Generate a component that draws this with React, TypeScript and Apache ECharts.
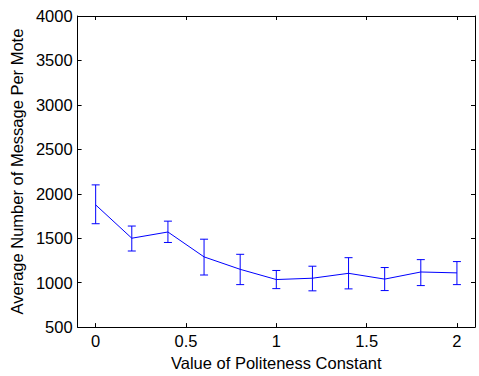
import React, { useEffect, useRef } from "react";
import * as echarts from "echarts";

const xValues = [0, 0.2, 0.4, 0.6, 0.8, 1.0, 1.2, 1.4, 1.6, 1.8, 2.0];
const meanValues = [1875, 1500, 1570, 1290, 1150, 1035, 1050, 1105, 1040, 1120, 1110];
const upperValues = [2100, 1637, 1692, 1489, 1319, 1137, 1185, 1281, 1170, 1259, 1237];
const lowerValues = [1663, 1356, 1452, 1086, 978, 933, 908, 930, 911, 967, 978];
const xTickValues = [0, 0.5, 1, 1.5, 2];
const xTickLabels = ["0", "0.5", "1", "1.5", "2"];

const FONT = "'Liberation Sans', Arial, Helvetica, sans-serif";
const BLUE = "#0000ff";
const FS = 16.5;

export default function App() {
  const ref = useRef<HTMLDivElement>(null);
  useEffect(() => {
    if (!ref.current) return;
    const chart = echarts.init(ref.current, undefined, { renderer: "svg" });
    const lineData = xValues.map((x, i) => [x, meanValues[i]]);
    const errData = xValues.map((x, i) => [x, lowerValues[i], upperValues[i]]);
    const axisLine = { show: true, onZero: false, lineStyle: { color: "#000", width: 1 } };
    const tickStyle = { show: true, inside: true, length: 4, lineStyle: { color: "#000", width: 1 } };
    chart.setOption({
      animation: false,
      backgroundColor: "#fff",
      grid: { left: 77, right: 4, top: 16, bottom: 44, containLabel: false },
      xAxis: [
        {
          type: "value",
          min: -0.1,
          max: 2.1,
          position: "bottom",
          axisLine,
          axisTick: { ...tickStyle, customValues: xTickValues },
          axisLabel: {
            customValues: xTickValues,
            formatter: (v: number) => {
              const idx = xTickValues.indexOf(v);
              return idx >= 0 ? xTickLabels[idx] : "";
            },
            color: "#000",
            fontFamily: FONT,
            fontSize: FS,
            margin: 5,
          },
          splitLine: { show: false },
          name: "Value of Politeness Constant",
          nameLocation: "middle",
          nameGap: 17,
          nameTextStyle: { color: "#000", fontFamily: FONT, fontSize: FS },
        },
        {
          type: "value",
          min: -0.1,
          max: 2.1,
          position: "top",
          axisLine,
          axisTick: { ...tickStyle, customValues: xTickValues },
          axisLabel: { show: false },
          splitLine: { show: false },
        },
      ],
      yAxis: [
        {
          type: "value",
          min: 500,
          max: 4000,
          interval: 500,
          position: "left",
          axisLine,
          axisTick: tickStyle,
          axisLabel: {
            color: "#000",
            fontFamily: FONT,
            fontSize: FS,
            margin: 5,
            formatter: (v: number) => String(v),
          },
          splitLine: { show: false },
          name: "Average Number of Message Per Mote",
          nameLocation: "middle",
          nameGap: 50,
          nameTextStyle: { color: "#000", fontFamily: FONT, fontSize: FS },
        },
        {
          type: "value",
          min: 500,
          max: 4000,
          interval: 500,
          position: "right",
          axisLine,
          axisTick: tickStyle,
          axisLabel: { show: false },
          splitLine: { show: false },
        },
      ],
      series: [
        {
          type: "line",
          data: lineData,
          showSymbol: false,
          symbol: "none",
          lineStyle: { color: BLUE, width: 1 },
          z: 3,
        },
        {
          type: "custom",
          data: errData,
          z: 4,
          renderItem: (params: any, api: any) => {
            const x = api.value(0);
            const lo = api.coord([x, api.value(1)]);
            const hi = api.coord([x, api.value(2)]);
            const half = 4;
            const style = { stroke: BLUE, lineWidth: 1, fill: null };
            return {
              type: "group",
              children: [
                { type: "line", shape: { x1: hi[0], y1: hi[1], x2: lo[0], y2: lo[1] }, style },
                { type: "line", shape: { x1: hi[0] - half, y1: hi[1], x2: hi[0] + half, y2: hi[1] }, style },
                { type: "line", shape: { x1: lo[0] - half, y1: lo[1], x2: lo[0] + half, y2: lo[1] }, style },
              ],
            };
          },
        },
      ],
    });
    return () => chart.dispose();
  }, []);
  return (
    <div
      ref={ref}
      style={{ position: "fixed", left: 0, top: 0, width: 479, height: 376 }}
    />
  );
}
